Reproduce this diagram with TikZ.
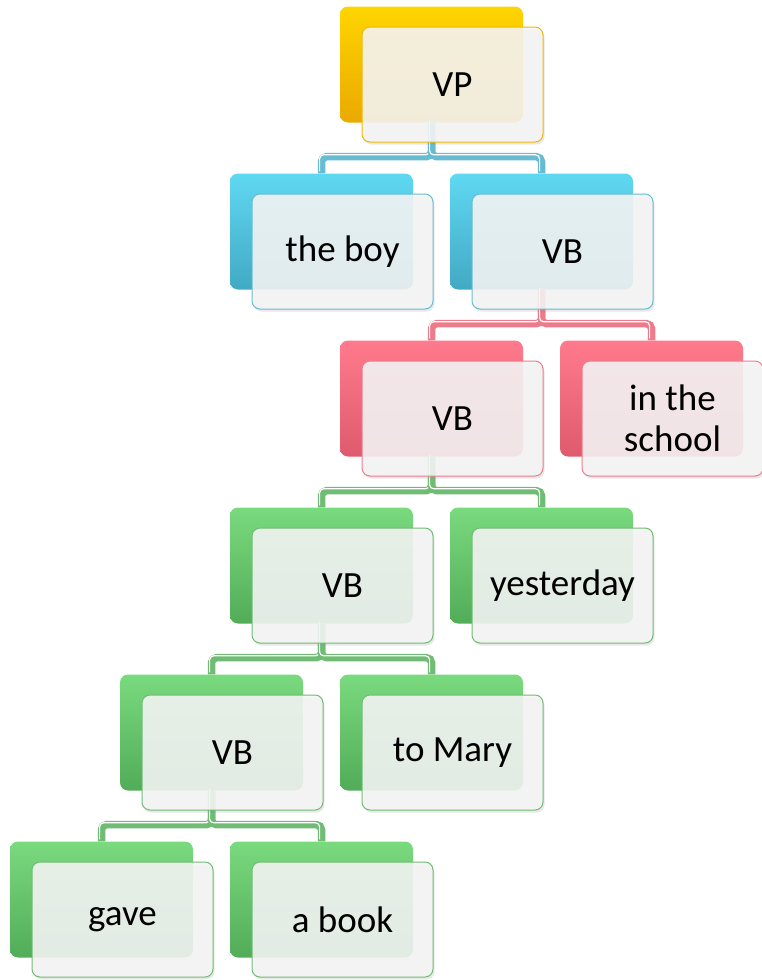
\documentclass[tikz,border=0pt]{standalone}
\usepackage{fontspec}
\setmainfont{Carlito}
\usepackage{xcolor}
\usetikzlibrary{calc, positioning, shadows}

\definecolor{goldtop}{HTML}{FFD500}
\definecolor{goldbot}{HTML}{EBA900}
\definecolor{goldline}{HTML}{F2B800}
\definecolor{bluetop}{HTML}{60D8F2}
\definecolor{bluebot}{HTML}{42A9C4}
\definecolor{blueline}{HTML}{68BCD2}
\definecolor{redtop}{HTML}{FF7A8C}
\definecolor{redbot}{HTML}{DE5A6C}
\definecolor{redline}{HTML}{EC7C8C}
\definecolor{greentop}{HTML}{7ADA7E}
\definecolor{greenbot}{HTML}{52AC58}
\definecolor{greenline}{HTML}{70BC74}

\tikzset{
    backbox/.style={rectangle, rounded corners=8pt, minimum width=183pt,
        minimum height=116pt, inner sep=0pt, top color=#1top, bottom color=#1bot},
    frontbox/.style={rectangle, rounded corners=8pt, minimum width=181pt,
        minimum height=115pt, inner sep=0pt, align=center, draw=#1line,
        line width=1pt, fill=gray!7, fill opacity=0.88, text opacity=1,
        drop shadow={shadow xshift=1.5pt, shadow yshift=-2.5pt, opacity=0.18},
        font=\fontsize{37}{41}\selectfont},
    conn/.style={draw=#1line, line width=7.5pt, rounded corners=5pt},
    connstripe/.style={draw=white, line width=1.2pt, rounded corners=4pt,
        transform canvas={shift={(-1.9pt,1.9pt)}}},
}

\begin{document}
\begin{tikzpicture}[x=1pt, y=-1pt]
    \useasboundingbox (0,0) rectangle (761,980);

    % Hintere Kaesten
    \node[backbox=gold]  (vpB)     at (431.5, 64.5) {};
    \node[backbox=blue]  (boyB)    at (321.5,231.5) {};
    \node[backbox=blue]  (vbaB)    at (541.5,231.5) {};
    \node[backbox=red]   (vbbB)    at (431.5,398.5) {};
    \node[backbox=red]   (schoolB) at (651.5,398.5) {};
    \node[backbox=green] (vbcB)    at (321.5,565.5) {};
    \node[backbox=green] (yestB)   at (541.5,565.5) {};
    \node[backbox=green] (vbdB)    at (211.5,732.5) {};
    \node[backbox=green] (maryB)   at (431.5,732.5) {};
    \node[backbox=green] (gaveB)   at (101.5,899.5) {};
    \node[backbox=green] (bookB)   at (321.5,899.5) {};

    % Verbindungen (dicke Linie mit heller Kante)
    \foreach \p/\c/\col in {vpB/boyB/blue, vpB/vbaB/blue, vbaB/vbbB/red,
            vbaB/schoolB/red, vbbB/vbcB/green, vbbB/yestB/green,
            vbcB/vbdB/green, vbcB/maryB/green, vbdB/gaveB/green,
            vbdB/bookB/green} {
        \draw[conn=\col] (\p.south) -- ++(0,34) -| (\c.north);
        \draw[connstripe] (\p.south) -- ++(0,34) -| (\c.north);
    }

    % Vordere Kaesten mit Text
    \node[frontbox=gold]  (vp)     at ([shift={(21,20)}]vpB.center)     {VP};
    \node[frontbox=blue]  (boy)    at ([shift={(21,20)}]boyB.center)    {the boy};
    \node[frontbox=blue]  (vba)    at ([shift={(21,20)}]vbaB.center)    {VB};
    \node[frontbox=red]   (vbb)    at ([shift={(21,20)}]vbbB.center)    {VB};
    \node[frontbox=red]   (school) at ([shift={(21,20)}]schoolB.center) {in the\\school};
    \node[frontbox=green] (vbc)    at ([shift={(21,20)}]vbcB.center)    {VB};
    \node[frontbox=green] (yest)   at ([shift={(21,20)}]yestB.center)   {yesterday};
    \node[frontbox=green] (vbd)    at ([shift={(21,20)}]vbdB.center)    {VB};
    \node[frontbox=green] (mary)   at ([shift={(21,20)}]maryB.center)   {to Mary};
    \node[frontbox=green] (gave)   at ([shift={(21,20)}]gaveB.center)   {gave};
    \node[frontbox=green] (book)   at ([shift={(21,20)}]bookB.center)   {a book};
\end{tikzpicture}
\end{document}
